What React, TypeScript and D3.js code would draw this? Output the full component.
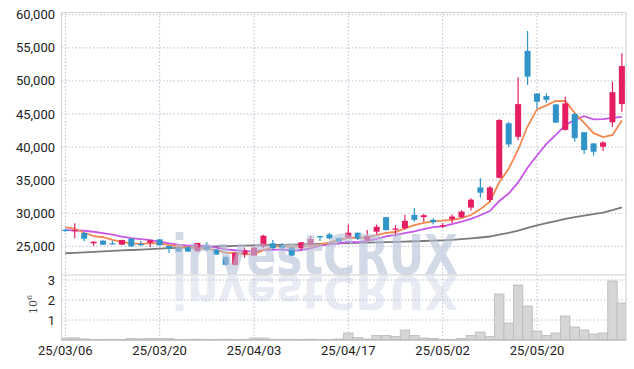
import React from 'react';
import * as d3 from 'd3';

const dates = [
  '25/03/06','25/03/07','25/03/10','25/03/11','25/03/12','25/03/13','25/03/14','25/03/17','25/03/18','25/03/19',
  '25/03/20','25/03/21','25/03/24','25/03/25','25/03/26','25/03/27','25/03/28','25/03/31','25/04/01','25/04/02',
  '25/04/03','25/04/04','25/04/07','25/04/08','25/04/09','25/04/10','25/04/11','25/04/14','25/04/15','25/04/16',
  '25/04/17','25/04/18','25/04/21','25/04/22','25/04/23','25/04/24','25/04/25','25/04/28','25/04/29','25/04/30',
  '25/05/02','25/05/07','25/05/08','25/05/09','25/05/12','25/05/13','25/05/14','25/05/15','25/05/16','25/05/19',
  '25/05/20','25/05/21','25/05/22','25/05/23','25/05/26','25/05/27','25/05/28','25/05/29','25/05/30','25/06/02',
];

const opens = [
  27500,27300,27010,25450,25850,25450,25250,26150,25350,25550,
  26050,25050,24650,24850,24250,25000,24500,23400,22200,23800,
  23600,24950,25450,25200,24800,24700,25200,26550,26800,26250,
  26300,27050,25850,27200,29400,27500,27750,29750,29400,29000,
  28000,29100,29400,30850,33900,32000,35350,43600,41550,54550,
  48100,47700,46450,42600,45000,42250,40550,40050,43750,46500,
];
const highs = [
  27700,28500,27200,25750,25900,25850,26000,26200,25800,26000,
  26100,25100,24700,24900,25550,25650,24600,23500,24100,24800,
  24900,26750,25950,25500,24900,25650,26600,26600,27000,26300,
  28300,27100,27450,28300,29450,28200,29750,30800,29900,29250,
  28500,29800,30450,32250,35300,34100,44200,43800,50550,57550,
  48150,48150,46500,47600,45100,42300,40600,40900,49900,54200,
];
const lows = [
  27200,26200,25750,25100,25200,25300,25200,24850,25000,24900,
  25100,24000,24150,24150,24200,24300,23700,22100,22100,23300,
  23500,24700,24550,24400,23500,24400,25100,25800,26050,25650,
  26200,25950,25800,26800,27400,26450,27500,28700,28700,28350,
  27750,28500,29300,30400,32350,31700,35300,40000,41050,49400,
  45850,46700,43650,42500,40800,38950,38700,39400,43050,45350,
];
const closes = [
  27300,27450,26150,25700,25250,25350,25950,25000,25250,25900,
  25150,24650,24200,24200,25500,24500,23750,22200,24000,24400,
  24800,26600,24700,24750,23600,25600,26100,26350,26200,25700,
  27050,26150,26550,27950,27450,27700,28850,29000,29700,28650,
  28200,29500,30250,32050,33100,33900,44100,40400,46500,50650,
  46850,47150,43700,46600,41350,39550,39300,40700,48300,52250,
];
const volumes = [
  100000,110000,60000,30000,30000,20000,30000,80000,60000,70000,
  70000,70000,30000,20000,40000,30000,30000,40000,30000,20000,
  100000,100000,40000,20000,20000,30000,40000,30000,30000,50000,
  350000,130000,50000,230000,230000,180000,500000,230000,100000,80000,
  20000,30000,80000,230000,400000,180000,2300000,850000,2750000,1700000,
  450000,230000,350000,1200000,650000,500000,300000,350000,2950000,1850000,
];
const ma5 = [
  27900,27650,27050,26550,26370,25980,25680,25450,25360,25490,
  25450,25190,25030,24820,24740,24610,24430,24030,23990,23770,
  23830,24400,24900,25050,24890,25050,24950,25280,25570,25990,
  26280,26290,26330,26680,27030,27160,27700,28190,28540,28780,
  28880,29010,29260,29730,30620,31760,34680,36710,39600,43110,
  45700,46310,46970,46990,45130,43670,42100,41500,41840,44020,
];
const ma10 = [
  27450,27400,27350,27200,27000,26750,26450,26250,26100,25930,
  25715,25435,25240,25090,25115,25030,24810,24530,24405,24255,
  24220,24415,24465,24520,24330,24440,24675,25090,25310,25440,
  25665,25620,25805,26125,26510,26720,26995,27260,27610,27905,
  28020,28355,28725,29135,29700,30320,31845,32985,34665,36865,
  38730,40495,41840,43295,44120,44685,44205,44235,44415,44575,
];
const ma60 = [
  23950,24020,24090,24160,24230,24300,24370,24440,24510,24580,
  24650,24710,24770,24830,24890,24940,24980,25010,25050,25090,
  25130,25170,25200,25230,25260,25290,25320,25360,25400,25430,
  25470,25510,25550,25600,25640,25680,25720,25760,25800,25850,
  25900,25980,26080,26200,26330,26480,26780,27030,27380,27780,
  28150,28500,28800,29150,29420,29650,29870,30100,30470,30880,
];

const priceTicks = [25000, 30000, 35000, 40000, 45000, 50000, 55000, 60000];
const volTicks = [1000000, 2000000, 3000000];
const dateTicks = ['25/03/06', '25/03/20', '25/04/03', '25/04/17', '25/05/02', '25/05/20'];

const L = 61.5, R = 626, T = 12.5, MB = 275, VB = 340;
const UP = '#e51e64', DOWN = '#3094c9';

export default function App() {
  const x = d3.scaleBand<string>().domain(dates).range([60.6, 626.6]).padding(0);
  const cx = (d: string) => (x(d) as number) + x.bandwidth() / 2;
  const y = d3.scaleLinear().domain([20660, 60350]).range([MB, T]);
  const yv = d3.scaleLinear().domain([0, 3250000]).range([VB, MB]);
  const fmt = d3.format(',');

  const lineGen = (vals: number[]) =>
    d3.line<number>().x((_, i) => cx(dates[i])).y((v) => y(v))(vals) as string;

  const bodyW = 6;
  const grid = '#b9bfd3';

  return (
    <svg width={634} height={369} style={{ position: 'absolute', left: 0, top: 0 }} fontFamily="Roboto, 'Liberation Sans', sans-serif">
      <defs>
        <clipPath id="mainClip"><rect x={L} y={T} width={R - L} height={MB - T} /></clipPath>
        <clipPath id="volClip"><rect x={L} y={MB} width={R - L} height={VB - MB} /></clipPath>
      </defs>
      <rect x={0} y={0} width={634} height={369} fill="#fff" />
      {/* grid */}
      {priceTicks.map((t) => (
        <line key={'hp' + t} x1={L} x2={R} y1={y(t)} y2={y(t)} stroke={grid} strokeDasharray="1.5,2" />
      ))}
      {volTicks.map((t) => (
        <line key={'hv' + t} x1={L} x2={R} y1={yv(t)} y2={yv(t)} stroke={grid} strokeDasharray="1.5,2" />
      ))}
      {dateTicks.map((d) => (
        <line key={'vg' + d} x1={cx(d)} x2={cx(d)} y1={T} y2={VB} stroke={grid} strokeDasharray="1.5,2" />
      ))}
      {/* volume */}
      <g clipPath="url(#volClip)">
        {dates.map((d, i) => (
          <rect key={'v' + d} x={x(d)} y={yv(volumes[i])} width={x.bandwidth()} height={VB - yv(volumes[i])}
            fill="#d6d6d6" stroke="#b9b9b9" strokeWidth={0.8} />
        ))}
        <g transform={`translate(0,276) scale(1,-0.85) translate(0,-274)`}>
          <text x={172} y={274} fontSize={55} fontWeight="bold" fontFamily="'DejaVu Sans', sans-serif"
            textLength={286} lengthAdjust="spacingAndGlyphs" fill="#b4c0d8" opacity={0.3}>investCRUX</text>
        </g>
      </g>
      {/* price */}
      <g clipPath="url(#mainClip)">
        <path d={lineGen(ma60)} fill="none" stroke="#7a7a7a" strokeWidth={1.8} />
        <path d={lineGen(ma10)} fill="none" stroke="#c857e8" strokeWidth={1.8} />
        <path d={lineGen(ma5)} fill="none" stroke="#f08850" strokeWidth={1.8} />
        {dates.map((d, i) => {
          const up = closes[i] >= opens[i];
          const c = up ? UP : DOWN;
          const top = y(Math.max(opens[i], closes[i]));
          const bot = y(Math.min(opens[i], closes[i]));
          return (
            <g key={'c' + d}>
              <line x1={cx(d)} x2={cx(d)} y1={y(highs[i])} y2={y(lows[i])} stroke={c} strokeWidth={1.2} />
              <rect x={cx(d) - bodyW / 2} y={top} width={bodyW} height={Math.max(1.2, bot - top)} fill={c} />
            </g>
          );
        })}
        <text x={172} y={274} fontSize={55} fontWeight="bold" fontFamily="'DejaVu Sans', sans-serif"
          textLength={286} lengthAdjust="spacingAndGlyphs" fill="#b4c0d8" opacity={0.6}>investCRUX</text>
      </g>
      {/* frame */}
      <line x1={L} x2={R} y1={T} y2={T} stroke="#d4d4d4" />
      <line x1={L} x2={L} y1={T} y2={VB} stroke="#cfcfcf" />
      <line x1={R} x2={R} y1={T} y2={VB} stroke="#cfcfcf" />
      <line x1={L} x2={R} y1={MB} y2={MB} stroke="#cfcfcf" />
      <line x1={L} x2={R} y1={VB} y2={VB} stroke="#bdbdbd" strokeWidth={1.5} />
      {/* axes labels */}
      {priceTicks.map((t) => (
        <text key={'pt' + t} x={55} y={y(t) + 4.5} textAnchor="end" fontSize={13} fill="#222">{fmt(t)}</text>
      ))}
      {volTicks.map((t) => (
        <text key={'vt' + t} x={55} y={yv(t) + 4.5} textAnchor="end" fontSize={13} fill="#222">{t / 1000000}</text>
      ))}
      {dateTicks.map((d) => (
        <text key={'dt' + d} x={cx(d)} y={355} textAnchor="middle" fontSize={13} fill="#222">{d}</text>
      ))}
      <text transform="translate(37,314) rotate(-90)" fontSize={11} fill="#444" fontFamily="'DejaVu Serif', serif">
        10<tspan dy={-5} fontSize={8}>6</tspan>
      </text>
    </svg>
  );
}
